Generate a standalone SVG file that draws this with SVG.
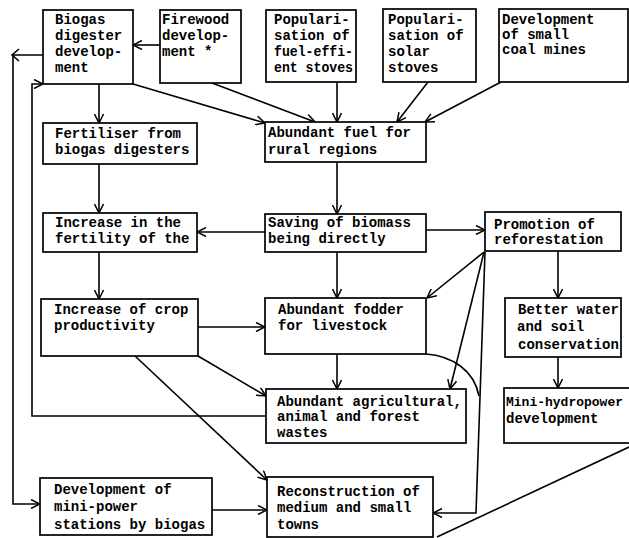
<svg xmlns="http://www.w3.org/2000/svg" width="629" height="538" viewBox="0 0 629 538">
<defs>
<marker id="ah" viewBox="0 0 10 10" refX="10" refY="5" markerWidth="10" markerHeight="10" markerUnits="userSpaceOnUse" orient="auto">
<path d="M1,0.5 L10,5 L1,9.5" fill="none" stroke="#000" stroke-width="1.5"/>
</marker>
<style>
rect{fill:#fff;stroke:#000;stroke-width:1.7}
text{font-family:"Liberation Mono","DejaVu Sans Mono",monospace;font-size:14px;font-weight:bold;fill:#000}
.c path{fill:none;stroke:#000;stroke-width:1.6}
.c .a{marker-end:url(#ah)}
</style>
</defs>
<rect x="0" y="0" width="629" height="538" style="fill:#fff;stroke:none"/>
<g class="c" id="connectors">
<path class="a" d="M160,45 L133,45"/>
<path class="a" d="M43,55 L13,55 L13,504 L40,504"/>
<path d="M19,49 L12,55 L19,61"/>
<path class="a" d="M266,416 L32,416 L32,84 L43,84"/>
<path class="a" d="M99,84 L99,123"/>
<path class="a" d="M133,84 L265,123"/>
<path class="a" d="M212,83 L315,122"/>
<path class="a" d="M337,82 L337,122"/>
<path class="a" d="M428,82 L397,122"/>
<path class="a" d="M501,82 L425,122"/>
<path class="a" d="M99,164 L99,213"/>
<path class="a" d="M337,162 L337,214"/>
<path class="a" d="M265,232 L197,232"/>
<path class="a" d="M426,230 L485,230"/>
<path class="a" d="M99,252 L99,299"/>
<path class="a" d="M337,252 L337,298"/>
<path class="a" d="M558,251 L558,298"/>
<path class="a" d="M484,252 L427,298"/>
<path class="a" d="M484,252 L450,389"/>
<path class="a" d="M485,252 L476,513 L433,513"/>
<path d="M426,354 C452,356 474,370 479,396"/>
<path class="a" d="M198,327 L265,327"/>
<path class="a" d="M198,356 L266,396"/>
<path class="a" d="M135,356 L267,480"/>
<path class="a" d="M337,354 L337,389"/>
<path class="a" d="M558,357 L558,388"/>
<path class="a" d="M212,510 L267,510"/>
<path d="M629,447 L437,537"/>
</g>
<g id="biogas"><rect x="43" y="10" width="90" height="74"/><text x="55" y="24">Biogas</text><text x="55" y="40">digester</text><text x="55" y="56">develop-</text><text x="55" y="72">ment</text></g>
<g id="firewood"><rect x="160" y="10" width="81" height="73"/><text x="162" y="24">Firewood</text><text x="162" y="40">develop-</text><text x="162" y="56">ment *</text></g>
<g id="fuelstoves"><rect x="266" y="10" width="90" height="72"/><text x="274" y="24">Populari-</text><text x="274" y="40">sation of</text><text x="274" y="56" textLength="79" lengthAdjust="spacingAndGlyphs">fuel-effi-</text><text x="274" y="72" textLength="79" lengthAdjust="spacingAndGlyphs">ent stoves</text></g>
<g id="solarstoves"><rect x="383" y="9" width="93" height="73"/><text x="388" y="24">Populari-</text><text x="388" y="40">sation of</text><text x="388" y="56">solar</text><text x="388" y="72">stoves</text></g>
<g id="coalmines"><rect x="499" y="9" width="129" height="73"/><text x="502" y="24">Development</text><text x="502" y="39">of small</text><text x="502" y="54">coal mines</text></g>
<g id="fertiliser"><rect x="43" y="123" width="154" height="41"/><text x="55" y="138">Fertiliser from</text><text x="55" y="154">biogas digesters</text></g>
<g id="fuel"><rect x="265" y="122" width="161" height="40"/><text x="268" y="137">Abundant fuel for</text><text x="268" y="154">rural regions</text></g>
<g id="fertility"><rect x="43" y="213" width="154" height="39"/><text x="55" y="227">Increase in the</text><text x="55" y="243">fertility of the</text></g>
<g id="saving"><rect x="265" y="214" width="161" height="38"/><text x="268" y="227">Saving of biomass</text><text x="268" y="243">being directly</text></g>
<g id="reforestation"><rect x="485" y="212" width="136" height="39"/><text x="494" y="229">Promotion of</text><text x="494" y="244">reforestation</text></g>
<g id="crop"><rect x="41" y="299" width="157" height="57"/><text x="54" y="314">Increase of crop</text><text x="54" y="330">productivity</text></g>
<g id="fodder"><rect x="265" y="298" width="161" height="56"/><text x="278" y="314">Abundant fodder</text><text x="278" y="330">for livestock</text></g>
<g id="water"><rect x="505" y="298" width="116" height="59"/><text x="518" y="314">Better water</text><text x="517" y="331">and soil</text><text x="518" y="349">conservation</text></g>
<g id="wastes"><rect x="266" y="389" width="200" height="54"/><text x="277" y="406">Abundant agricultural,</text><text x="277" y="421">animal and forest</text><text x="277" y="437">wastes</text></g>
<g id="hydro"><rect x="504" y="388" width="130" height="55"/><text x="506" y="406" style="font-size:13px">Mini-hydropower</text><text x="506" y="423">development</text></g>
<g id="minipower"><rect x="40" y="478" width="172" height="57"/><text x="54" y="494">Development of</text><text x="54" y="511">mini-power</text><text x="54" y="529">stations by biogas</text></g>
<g id="towns"><rect x="267" y="477" width="166" height="60"/><text x="277" y="496">Reconstruction of</text><text x="277" y="512">medium and small</text><text x="277" y="529">towns</text></g>
</svg>
